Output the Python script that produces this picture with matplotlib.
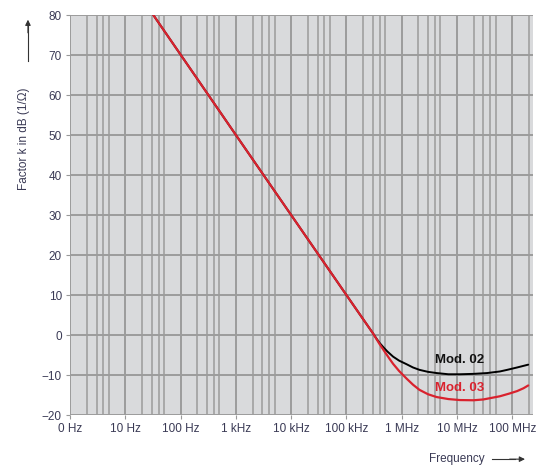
import numpy as np
import matplotlib.pyplot as plt
from matplotlib.ticker import FixedLocator, LogLocator, NullFormatter

plt.rcParams['font.family'] = ['Liberation Sans', 'DejaVu Sans']

# shared -20 dB/decade slope, then the two module curves
freq_02 = [32, 1e3, 1e4, 1e5, 2e5, 3e5, 3.5e5, 4e5, 4.7e5, 5.5e5, 7e5, 9e5, 1.23e6, 1.6e6,
           2.1e6, 3e6, 4.3e6, 7e6, 1.13e7, 2e7, 3.5e7, 6e7, 8.1e7, 1.23e8, 1.95e8]
k_02 = [80, 50, 30, 10, 4, 0.5, -0.9, -2.0, -3.1, -4.1, -5.4, -6.4, -7.3, -8.1,
        -8.7, -9.2, -9.5, -9.8, -9.8, -9.7, -9.5, -9.1, -8.7, -8.1, -7.4]

freq_03 = [32, 1e3, 1e4, 1e5, 2e5, 3e5, 3.5e5, 4e5, 5e5, 6e5, 7e5, 9e5, 1.23e6, 1.6e6,
           2.1e6, 3e6, 4.3e6, 7e6, 1.13e7, 2e7, 3e7, 6e7, 9e7, 1.23e8, 1.6e8, 1.95e8]
k_03 = [80, 50, 30, 10, 4, 0.5, -1.0, -2.3, -4.3, -5.9, -7.2, -9.0, -10.9, -12.4,
        -13.7, -14.8, -15.5, -16.0, -16.25, -16.3, -16.1, -15.3, -14.6, -14.0, -13.3, -12.6]

xticks = [1, 10, 1e2, 1e3, 1e4, 1e5, 1e6, 1e7, 1e8]
xlabels = ['0 Hz', '10 Hz', '100 Hz', '1 kHz', '10 kHz', '100 kHz', '1 MHz', '10 MHz', '100 MHz']
yticks = list(range(-20, 81, 10))

red = '#d9222e'
txt = '#3a3a55'

fig = plt.figure(figsize=(5.48, 4.69), dpi=100)
ax = fig.add_axes([0.128, 0.115, 0.845, 0.853])
ax.set_facecolor('#d9dadc')

ax.set_xscale('log')
ax.set_xlim(1, 2.4e8)
ax.set_ylim(-20, 80)

ax.xaxis.set_major_locator(FixedLocator(xticks))
ax.set_xticklabels(xlabels)
ax.xaxis.set_minor_locator(LogLocator(base=10, subs=[2, 3, 4, 5]))
ax.xaxis.set_minor_formatter(NullFormatter())
ax.set_yticks(yticks)
ax.set_yticklabels(['\u221220', '\u221210'] + [str(v) for v in yticks[2:]])

ax.grid(which='major', color='#9c9c9c', linewidth=1.4)
ax.grid(which='minor', axis='x', color='#a4a4a4', linewidth=1.3)
ax.set_axisbelow(True)

ax.tick_params(which='major', length=3, width=0.8, color='#999999',
               labelsize=8.5, labelcolor=txt, pad=3)
ax.tick_params(which='minor', length=0)
for s in ax.spines.values():
    s.set_visible(False)

ax.plot(freq_02, k_02, color='black', linewidth=1.4, solid_capstyle='round')
ax.plot(freq_03, k_03, color=red, linewidth=1.6, solid_capstyle='round')

ax.text(1.1e7, -6.3, 'Mod. 02', color='#111111', fontsize=9.5, fontweight='bold',
        ha='center', va='center')
ax.text(1.1e7, -13.3, 'Mod. 03', color=red, fontsize=9.5, fontweight='bold',
        ha='center', va='center')

# axis captions with arrows
fig.text(0.044, 0.705, 'Factor k in dB (1/\u03a9)', rotation=90, ha='center', va='center',
         fontsize=8.5, color=txt)
fig.add_artist(plt.Line2D([0.051, 0.051], [0.87, 0.95], color='#333333', linewidth=0.8))
ax.annotate('', xy=(0.051, 0.958), xytext=(0.051, 0.93), xycoords='figure fraction',
            arrowprops=dict(arrowstyle='-|>', color='#333333', lw=0.8,
                            mutation_scale=8, shrinkA=0, shrinkB=0))

fig.text(0.885, 0.021, 'Frequency', ha='right', va='center', fontsize=8.5, color=txt)
fig.add_artist(plt.Line2D([0.898, 0.94], [0.021, 0.021], color='#333333', linewidth=0.8))
ax.annotate('', xy=(0.958, 0.021), xytext=(0.93, 0.021), xycoords='figure fraction',
            arrowprops=dict(arrowstyle='-|>', color='#333333', lw=0.8,
                            mutation_scale=8, shrinkA=0, shrinkB=0))

fig.savefig('out.png', dpi=100)
